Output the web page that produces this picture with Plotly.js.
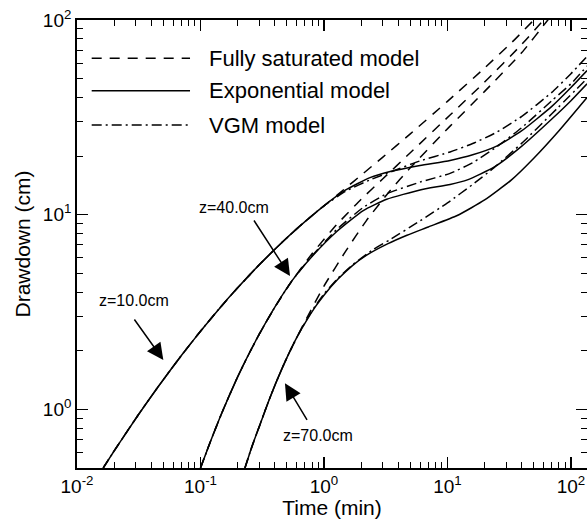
<!DOCTYPE html>
<html>
<head>
<meta charset="utf-8">
<script src="https://cdn.plot.ly/plotly-3.0.1.min.js"></script>
<style>html,body{margin:0;padding:0;background:#fff;}#chart{width:587px;height:519px;}</style>
</head>
<body>
<div id="chart"></div>
<script>
// ---- data (time in min, drawdown in cm) ----
// z = 10 cm
var t_sat_z10 = [0.0163,0.02,0.031,0.0455,0.07,0.1,0.15,0.2,0.3,0.45,0.64,1.0,1.5,2,3,5,10,20,35,50,55];
var s_sat_z10 = [0.5,0.612,0.928,1.31,1.89,2.52,3.43,4.21,5.54,7.14,8.76,11.11,13.72,15.96,19.77,26.0,38.2,56.7,79.3,100,107];
var t_exp_z10 = [0.0163,0.02,0.031,0.0455,0.07,0.1,0.15,0.2,0.3,0.45,0.64,1.0,1.5,2.36,3.5,6,10.5,16,25,40,70,100,135];
var s_exp_z10 = [0.5,0.612,0.928,1.31,1.89,2.52,3.43,4.21,5.54,7.14,8.76,11.11,13.4,15.5,16.7,17.9,19.0,20.3,22.5,27,36,45,55];
var t_vgm_z10 = [0.0163,0.02,0.031,0.0455,0.07,0.1,0.15,0.2,0.3,0.45,0.64,1.0,1.5,2.36,3.5,6,10.5,16,25,40,70,100,135];
var s_vgm_z10 = [0.5,0.612,0.928,1.31,1.89,2.52,3.43,4.21,5.54,7.14,8.76,11.11,13.2,15.1,16.6,18.9,21.0,23.2,26.5,32,42.5,53,65];
// z = 40 cm
var t_sat_z40 = [0.1,0.12,0.15,0.2,0.25,0.3,0.4,0.55,0.8,1.27,2,3,5,10.5,20,40,60,64];
var s_sat_z40 = [0.5,0.68,0.97,1.47,1.96,2.44,3.35,4.57,6.3,8.9,12.0,15.3,20.8,32.5,48,75,100,105];
var t_exp_z40 = [0.1,0.12,0.15,0.2,0.25,0.3,0.4,0.55,0.8,1.27,2.08,3.22,6,10.5,14.5,24,40,70,100,135];
var s_exp_z40 = [0.5,0.68,0.97,1.47,1.96,2.44,3.35,4.57,6.1,8.2,10.5,12.0,13.4,14.3,15.1,17.6,22.5,31,38.5,47];
var t_vgm_z40 = [0.1,0.12,0.15,0.2,0.25,0.3,0.4,0.55,0.8,1.27,2.08,3.22,6,10.5,16,25,40,70,100,135];
var s_vgm_z40 = [0.5,0.68,0.97,1.47,1.96,2.44,3.35,4.57,6.15,8.4,10.9,12.8,14.7,16.3,18.5,22.3,28,38.5,47,58];
// z = 70 cm
var t_sat_z70 = [0.229,0.26,0.3,0.35,0.414,0.5,0.6,0.72,1.0,1.5,2.2,3.4,5,10.5,20,40,65,70];
var s_sat_z70 = [0.5,0.64,0.82,1.07,1.40,1.84,2.33,2.92,4.3,6.5,9.3,13.2,17.4,28.5,43,68,100,106];
var t_exp_z70 = [0.229,0.26,0.3,0.35,0.414,0.5,0.6,0.72,0.85,1.0,1.3,1.7,2.2,3.3,4.7,7,12,20,33,50,80,135];
var s_exp_z70 = [0.5,0.64,0.82,1.07,1.40,1.84,2.33,2.85,3.36,3.86,4.67,5.48,6.18,7.1,7.84,8.65,9.9,11.9,15.1,19.5,27,40];
var t_vgm_z70 = [0.229,0.26,0.3,0.35,0.414,0.5,0.6,0.72,0.85,1.0,1.3,1.7,2.5,3.4,6,10,16,24,40,70,135];
var s_vgm_z70 = [0.5,0.64,0.82,1.07,1.40,1.84,2.33,2.87,3.4,3.92,4.72,5.52,6.62,7.42,9.3,11.5,14.3,17.5,23.3,33,50];

var legendNames = ['Fully saturated model','Exponential model','VGM model'];
var depthLabels = ['z=10.0cm','z=40.0cm','z=70.0cm'];
var xTickVals = [0.01,0.1,1,10,100];
var xTickText = ['10<sup>-2</sup>','10<sup>-1</sup>','10<sup>0</sup>','10<sup>1</sup>','10<sup>2</sup>'];
var yTickVals = [1,10,100];
var yTickText = ['10<sup>0</sup>','10<sup>1</sup>','10<sup>2</sup>'];

// ---- styling ----
var DASH_SAT = '10px,8px';
var DASH_EXP = 'solid';
var DASH_VGM = '10px,4px,2px,4px';
var LW = 1.5;
function tr(x, y, dash) {
  return {x: x, y: y, type: 'scatter', mode: 'lines', showlegend: false,
          line: {color: '#000', width: LW, dash: dash, shape: 'spline', smoothing: 0.5},
          hoverinfo: 'skip'};
}
var data = [
  tr(t_sat_z10, s_sat_z10, DASH_SAT), tr(t_exp_z10, s_exp_z10, DASH_EXP), tr(t_vgm_z10, s_vgm_z10, DASH_VGM),
  tr(t_sat_z40, s_sat_z40, DASH_SAT), tr(t_exp_z40, s_exp_z40, DASH_EXP), tr(t_vgm_z40, s_vgm_z40, DASH_VGM),
  tr(t_sat_z70, s_sat_z70, DASH_SAT), tr(t_exp_z70, s_exp_z70, DASH_EXP), tr(t_vgm_z70, s_vgm_z70, DASH_VGM)
];

function minorVals(lo, hi) {
  var v = [];
  for (var e = lo; e <= hi; e++) for (var k = 2; k <= 9; k++) v.push(k * Math.pow(10, e));
  return v;
}
var FONT = 'Liberation Sans, Arial, Helvetica, sans-serif';

// manual legend (paper coords)
var legDash = [DASH_SAT, DASH_EXP, DASH_VGM];
var legY = [0.9145, 0.8422, 0.7656];
var shapes = [];
var annotations = [];
for (var i = 0; i < 3; i++) {
  shapes.push({type: 'line', xref: 'paper', yref: 'paper', x0: 0.0288, x1: 0.2216, y0: legY[i], y1: legY[i],
               line: {color: '#000', width: LW, dash: legDash[i]}});
  annotations.push({xref: 'paper', yref: 'paper', x: 0.2549, y: legY[i], xanchor: 'left', yanchor: 'middle',
                    text: legendNames[i], showarrow: false, font: {family: FONT, size: 22, color: '#000'}});
}
// depth labels
var labPos = [[-1.538, 0.557], [-0.729, 1.037], [-0.049, -0.132]];
for (var j = 0; j < 3; j++) {
  annotations.push({xref: 'x', yref: 'y', x: labPos[j][0], y: labPos[j][1], text: depthLabels[j], showarrow: false,
                    xanchor: 'center', yanchor: 'middle', font: {family: FONT, size: 16, color: '#000'}});
}
// arrows
var arrows = [[-1.301, 0.254, -30, -42], [-0.275, 0.685, -37, -57], [-0.316, 0.134, 23, 38]];
for (var k = 0; k < 3; k++) {
  annotations.push({xref: 'x', yref: 'y', x: arrows[k][0], y: arrows[k][1], ax: arrows[k][2], ay: arrows[k][3],
                    text: '', showarrow: true, arrowhead: 2, arrowsize: 2.2, arrowwidth: 1.5, arrowcolor: '#000', standoff: 0});
}

var axisCommon = {
  type: 'log', showline: true, linecolor: '#000', linewidth: 1.8, mirror: 'ticks',
  ticks: 'inside', ticklen: 11, tickwidth: 1.5, tickcolor: '#000', showgrid: false, zeroline: false,
  tickmode: 'array', tickfont: {family: FONT, size: 19, color: '#000'},
  minor: {ticks: 'inside', ticklen: 6, tickwidth: 1, tickcolor: '#000', showgrid: false, tickmode: 'array'}
};
var xaxis = JSON.parse(JSON.stringify(axisCommon));
xaxis.range = [-2, 2.13];
xaxis.tickvals = xTickVals; xaxis.ticktext = xTickText;
xaxis.minor.tickvals = minorVals(-2, 2);
xaxis.title = {text: 'Time (min)', font: {family: FONT, size: 21, color: '#000'}, standoff: 6};
var yaxis = JSON.parse(JSON.stringify(axisCommon));
yaxis.range = [Math.log10(0.5), 2];
yaxis.tickvals = yTickVals; yaxis.ticktext = yTickText;
yaxis.minor.tickvals = minorVals(-1, 1);
yaxis.title = {text: 'Drawdown (cm)', font: {family: FONT, size: 21, color: '#000'}, standoff: 6};

var layout = {
  width: 587, height: 519,
  margin: {l: 77, r: 0, t: 20, b: 51},
  paper_bgcolor: '#fff', plot_bgcolor: '#fff',
  font: {family: FONT, color: '#000'},
  xaxis: xaxis, yaxis: yaxis, showlegend: false,
  shapes: shapes, annotations: annotations
};
Plotly.newPlot('chart', data, layout, {displayModeBar: false, staticPlot: true});
</script>
</body>
</html>
